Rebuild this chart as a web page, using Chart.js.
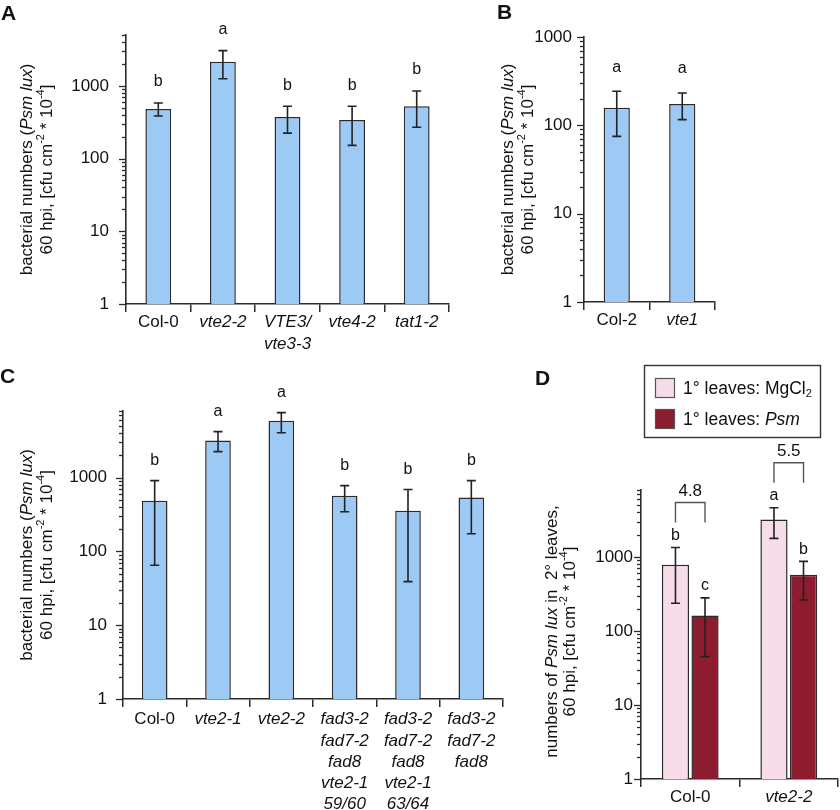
<!DOCTYPE html>
<html>
<head>
<meta charset="utf-8">
<script src="https://cdn.jsdelivr.net/npm/chart.js@4.4.1/dist/chart.umd.min.js"></script>
<style>
  body { margin: 0; background: #fff; }
  #wrap { position: relative; width: 840px; height: 810px; overflow: hidden; }
  canvas { position: absolute; }
</style>
</head>
<body>
<div id="wrap">
  <canvas id="chartA" width="470" height="360" style="left:0;top:0"></canvas>
  <canvas id="chartB" width="370" height="360" style="left:470px;top:0"></canvas>
  <canvas id="chartC" width="530" height="450" style="left:0;top:360px"></canvas>
  <canvas id="chartD" width="310" height="450" style="left:530px;top:360px"></canvas>
</div>
<script>
const FONT = '"Liberation Sans", Arial, sans-serif';
const BLUE = "#9dc9f5";
const PINK = "#f7dce9";
const DARKRED = "#8c1c2e";
const EDGE = "#2b2b2b";
const AXIS = "#2b2b2b";

// y tick labels shared by all panels (log axis)
const yLabels = [1, 10, 100, 1000];

// panel A
const catsA = ["Col-0", "vte2-2", ["VTE3/", "vte3-3"], "vte4-2", "tat1-2"];
const meanA = [480, 2140, 372, 340, 525];
const highA = [582, 3050, 525, 525, 850];
const lowA = [385, 1250, 224, 152, 270];
const lettersA = ["b", "a", "b", "b", "b"];

// panel B
const catsB = ["Col-2", "vte1"];
const meanB = [158, 174];
const highB = [243, 232];
const lowB = [75, 116];
const lettersB = ["a", "a"];

// panel C
const catsC = [
  "Col-0", "vte2-1", "vte2-2",
  ["fad3-2", "fad7-2", "fad8", "vte2-1", "59/60"],
  ["fad3-2", "fad7-2", "fad8", "vte2-1", "63/64"],
  ["fad3-2", "fad7-2", "fad8"],
];
const meanC = [487, 3180, 5900, 570, 357, 540];
const highC = [910, 4200, 7600, 780, 690, 910];
const lowC = [65, 2250, 4060, 345, 39, 174];
const lettersC = ["b", "a", "a", "b", "b", "b"];

// panel D
const catsD = ["Col-0", "vte2-2"];
const meanMg = [785, 3200];
const highMg = [1340, 4600];
const lowMg = [236, 1780];
const lettersMg = ["b", "a"];
const meanPsm = [162, 574];
const highPsm = [279, 870];
const lowPsm = [45, 261];
const lettersPsm = ["c", "b"];
const foldD = ["4.8", "5.5"];

const titleLine1 = [{ t: "bacterial numbers (" }, { t: "Psm lux", i: true }, { t: ")" }];
const titleLine2 = [{ t: "60 hpi, [cfu cm" }, { t: "-2", sup: true }, { t: " * 10" }, { t: "-4", sup: true }, { t: "]" }];
const titleLineD1 = [{ t: "numbers of " }, { t: "Psm lux", i: true }, { t: " in  2° leaves," }];
const legendMg = [{ t: "1° leaves: MgCl" }, { t: "2", sub: true }];
const legendPsm = [{ t: "1° leaves: " }, { t: "Psm", i: true }];

function logTicks(max) {
  const out = [];
  for (let d = 1; d <= max; d *= 10) {
    for (let m = 1; m < 10; m++) {
      if (d * m <= max) out.push(d * m);
    }
  }
  return out;
}

function partFont(p, size) {
  const s = p.sup || p.sub ? Math.round(size * 0.65) : size;
  return `${p.i ? "italic " : ""}${s}px ${FONT}`;
}

function richWidth(ctx, parts, size) {
  let w = 0;
  parts.forEach((p) => {
    ctx.font = partFont(p, size);
    w += ctx.measureText(p.t).width;
  });
  return w;
}

function drawRich(ctx, parts, x, y, size, align) {
  let cx = align === "left" ? x : x - richWidth(ctx, parts, size) / 2;
  ctx.textAlign = "left";
  ctx.textBaseline = "middle";
  parts.forEach((p) => {
    ctx.font = partFont(p, size);
    const dy = p.sup ? -size * 0.33 : p.sub ? size * 0.3 : 0;
    ctx.fillText(p.t, cx, y + dy);
    cx += ctx.measureText(p.t).width;
  });
}

function drawErrorBar(ctx, x, yHi, yLo) {
  ctx.beginPath();
  ctx.moveTo(x, yHi);
  ctx.lineTo(x, yLo);
  ctx.moveTo(x - 4.5, yHi);
  ctx.lineTo(x + 4.5, yHi);
  ctx.moveTo(x - 4.5, yLo);
  ctx.lineTo(x + 4.5, yLo);
  ctx.stroke();
}

function panelPlugin(o) {
  return {
    id: "panelDecor",
    afterDraw(chart) {
      const ctx = chart.ctx;
      const ys = chart.scales.y;
      const area = chart.chartArea;
      ctx.save();

      // y tick marks, long at decades
      ctx.strokeStyle = AXIS;
      ctx.lineWidth = 1.3;
      ys.ticks.forEach((t) => {
        const py = Math.round(ys.getPixelForValue(t.value)) + 0.5;
        const len = yLabels.includes(t.value) ? 7 : 4;
        ctx.beginPath();
        ctx.moveTo(area.left - len, py);
        ctx.lineTo(area.left, py);
        ctx.stroke();
      });

      // error bars and letters
      ctx.strokeStyle = "#222";
      ctx.lineWidth = 1.6;
      chart.data.datasets.forEach((ds, di) => {
        const meta = chart.getDatasetMeta(di);
        meta.data.forEach((bar, i) => {
          const yHi = ys.getPixelForValue(ds.errHigh[i]);
          const yLo = ys.getPixelForValue(ds.errLow[i]);
          drawErrorBar(ctx, bar.x, yHi, yLo);
          ctx.fillStyle = "#111";
          ctx.font = `16px ${FONT}`;
          ctx.textAlign = "center";
          ctx.textBaseline = "middle";
          ctx.fillText(ds.letters[i], bar.x, yHi - o.letterGap);
        });
      });

      // fold-change brackets (panel D)
      if (o.folds) {
        const m0 = chart.getDatasetMeta(0);
        const m1 = chart.getDatasetMeta(1);
        ctx.strokeStyle = "#555";
        ctx.lineWidth = 1.4;
        o.folds.forEach((txt, i) => {
          const ds0 = chart.data.datasets[0];
          const ds1 = chart.data.datasets[1];
          const top = Math.min(ys.getPixelForValue(ds0.errHigh[i]), ys.getPixelForValue(ds1.errHigh[i]));
          const legBottom = top - 25;
          const barTop = legBottom - 20;
          const x1 = m0.data[i].x;
          const x2 = m1.data[i].x;
          ctx.beginPath();
          ctx.moveTo(x1, legBottom);
          ctx.lineTo(x1, barTop);
          ctx.lineTo(x2, barTop);
          ctx.lineTo(x2, legBottom);
          ctx.stroke();
          ctx.fillStyle = "#111";
          ctx.font = `17px ${FONT}`;
          ctx.textAlign = "center";
          ctx.textBaseline = "middle";
          ctx.fillText(txt, (x1 + x2) / 2, barTop - 11);
        });
      }

      // y-axis title, two rotated lines
      ctx.fillStyle = "#111";
      const cy = (area.top + area.bottom) / 2 + (o.titleShift || 0);
      o.titles.forEach((parts, k) => {
        ctx.save();
        ctx.translate(o.titleX[k], cy);
        ctx.rotate(-Math.PI / 2);
        drawRich(ctx, parts, 0, 0, 17);
        ctx.restore();
      });

      // panel letter
      ctx.font = `bold 21px ${FONT}`;
      ctx.textAlign = "left";
      ctx.textBaseline = "alphabetic";
      ctx.fillText(o.panel, o.panelPos[0], o.panelPos[1]);

      // legend box (panel D)
      if (o.legend) {
        const L = o.legend;
        ctx.strokeStyle = "#333";
        ctx.lineWidth = 1.4;
        ctx.strokeRect(L.x + 0.5, L.y + 0.5, L.w, L.h);
        L.items.forEach((it, k) => {
          const ry = L.rowY[k];
          ctx.fillStyle = it.color;
          ctx.fillRect(L.x + 11, ry - 10, 20, 20);
          ctx.strokeStyle = "#555";
          ctx.lineWidth = 1.2;
          ctx.strokeRect(L.x + 11.5, ry - 9.5, 19, 19);
          ctx.fillStyle = "#111";
          drawRich(ctx, it.parts, L.x + 39, ry + 1, 17.5, "left");
        });
      }
      ctx.restore();
    },
  };
}

function makePanel(id, o) {
  return new Chart(document.getElementById(id), {
    type: "bar",
    data: { labels: o.labels, datasets: o.datasets },
    options: {
      responsive: false,
      animation: false,
      devicePixelRatio: 1,
      layout: { padding: o.padding },
      plugins: { legend: { display: false }, tooltip: { enabled: false } },
      scales: {
        x: {
          grid: { display: true, drawOnChartArea: false, drawTicks: true, tickLength: 8, color: AXIS, lineWidth: 1.5, offset: true },
          border: { display: true, color: AXIS, width: 1.6 },
          ticks: {
            padding: o.xPad,
            maxRotation: 0,
            autoSkip: false,
            color: "#111",
            font: (c) => ({ family: FONT, size: 17, lineHeight: 1.25, style: o.italic[c.index] ? "italic" : "normal" }),
          },
          afterFit: (s) => { s.height = o.xHeight; },
        },
        y: {
          type: "logarithmic",
          min: 1,
          max: o.max,
          grid: { display: false, drawTicks: false },
          border: { display: true, color: AXIS, width: 1.6 },
          ticks: {
            padding: o.yPad,
            autoSkip: false,
            color: "#111",
            font: { family: FONT, size: 17 },
            callback: (v) => (yLabels.includes(v) ? String(v) : ""),
          },
          afterBuildTicks: (s) => { s.ticks = logTicks(o.max).map((v) => ({ value: v })); },
          afterFit: (s) => { s.width = o.yWidth; },
        },
      },
    },
    plugins: [panelPlugin(o)],
  });
}

function blueSet(data, hi, lo, letters, barPct) {
  return [{
    data, errHigh: hi, errLow: lo, letters,
    backgroundColor: BLUE, borderColor: EDGE, borderWidth: 1.5,
    categoryPercentage: 1, barPercentage: barPct,
  }];
}

makePanel("chartA", {
  labels: catsA, italic: [false, true, true, true, true],
  datasets: blueSet(meanA, highA, lowA, lettersA, 0.4),
  max: 5000, padding: { left: 60, top: 35, right: 21, bottom: 0 },
  yWidth: 66, xHeight: 56, xPad: 0, yPad: 17, letterGap: 21,
  titles: [titleLine1, titleLine2], titleX: [27, 47],
  panel: "A", panelPos: [1, 20],
});

makePanel("chartB", {
  labels: catsB, italic: [false, true],
  datasets: blueSet(meanB, highB, lowB, lettersB, 0.4),
  max: 1000, padding: { left: 60, top: 37, right: 125, bottom: 0 },
  yWidth: 54, xHeight: 58, xPad: 0, yPad: 12, letterGap: 24,
  titles: [titleLine1, titleLine2], titleX: [38, 58],
  panel: "B", panelPos: [27, 19],
});

makePanel("chartC", {
  labels: catsC, italic: [false, true, true, true, true, true],
  datasets: blueSet(meanC, highC, lowC, lettersC, 0.405),
  max: 8000, padding: { left: 60, top: 51, right: 27, bottom: 0 },
  yWidth: 63, xHeight: 111, xPad: 2, yPad: 16, letterGap: 20,
  titles: [titleLine1, titleLine2], titleX: [27, 47],
  panel: "C", panelPos: [0, 23],
});

makePanel("chartD", {
  labels: catsD, italic: [false, true],
  datasets: [
    { data: meanMg, errHigh: highMg, errLow: lowMg, letters: lettersMg,
      backgroundColor: PINK, borderColor: EDGE, borderWidth: 1.5, categoryPercentage: 0.6, barPercentage: 0.92 },
    { data: meanPsm, errHigh: highPsm, errLow: lowPsm, letters: lettersPsm,
      backgroundColor: DARKRED, borderColor: EDGE, borderWidth: 1.5, categoryPercentage: 0.6, barPercentage: 0.92 },
  ],
  max: 8000, padding: { left: 60, top: 130, right: 2, bottom: 0 },
  yWidth: 51, xHeight: 31, xPad: 0, yPad: 8, letterGap: 12,
  titles: [titleLineD1, titleLine2], titleX: [22, 40], titleShift: -3,
  panel: "D", panelPos: [5, 25], folds: foldD,
  legend: {
    x: 114, y: 5, w: 176, h: 72, rowY: [28, 59],
    items: [{ color: PINK, parts: legendMg }, { color: DARKRED, parts: legendPsm }],
  },
});
</script>
</body>
</html>
